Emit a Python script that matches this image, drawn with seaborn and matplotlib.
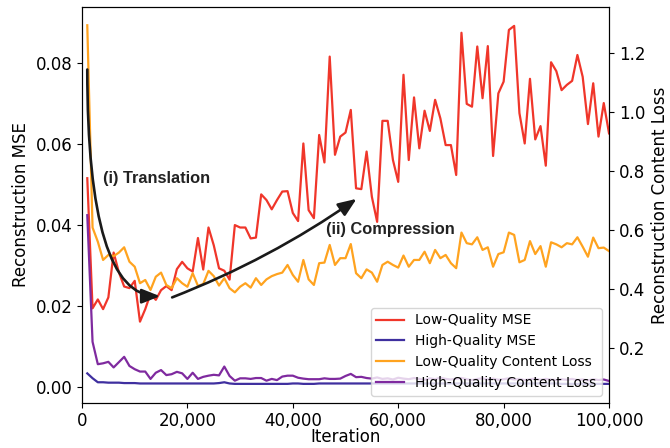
import matplotlib
matplotlib.use("Agg")
import matplotlib.pyplot as plt
import seaborn as sns
from matplotlib.ticker import StrMethodFormatter, MultipleLocator

# ---------------- data ----------------
iterations = list(range(1000, 100001, 1000))

low_quality_mse = [
    0.0516, 0.0194, 0.0216, 0.0192, 0.0221, 0.0332, 0.0283, 0.0248, 0.0244, 0.0262,
    0.0161, 0.0192, 0.0230, 0.0215, 0.0239, 0.0249, 0.0239, 0.0291, 0.0309, 0.0293,
    0.0285, 0.0368, 0.0290, 0.0394, 0.0350, 0.0293, 0.0287, 0.0265, 0.0400, 0.0394,
    0.0394, 0.0367, 0.0369, 0.0476, 0.0462, 0.0439, 0.0462, 0.0483, 0.0484, 0.0430,
    0.0410, 0.0602, 0.0437, 0.0417, 0.0623, 0.0555, 0.0817, 0.0574, 0.0619, 0.0629,
    0.0685, 0.0491, 0.0489, 0.0582, 0.0470, 0.0408, 0.0658, 0.0658, 0.0561, 0.0507,
    0.0772, 0.0561, 0.0716, 0.0590, 0.0683, 0.0633, 0.0710, 0.0664, 0.0598, 0.0598,
    0.0524, 0.0876, 0.0700, 0.0693, 0.0842, 0.0714, 0.0843, 0.0571, 0.0726, 0.0755,
    0.0883, 0.0893, 0.0677, 0.0602, 0.0762, 0.0612, 0.0645, 0.0547, 0.0803, 0.0781,
    0.0734, 0.0747, 0.0757, 0.0821, 0.0767, 0.0650, 0.0751, 0.0619, 0.0702, 0.0627,
]

high_quality_mse = [
    0.0033, 0.0021, 0.0011, 0.0011, 0.0010, 0.0010, 0.0010, 0.0009, 0.0009, 0.0009,
    0.0008, 0.0008, 0.0008, 0.0008, 0.0008, 0.0008, 0.0008, 0.0008, 0.0008, 0.0008,
    0.0008, 0.0008, 0.0008, 0.0008, 0.0008, 0.0009, 0.0011, 0.0008, 0.0007, 0.0007,
    0.0007, 0.0007, 0.0007, 0.0007, 0.0007, 0.0007, 0.0007, 0.0007, 0.0007, 0.0008,
    0.0008, 0.0007, 0.0007, 0.0007, 0.0008, 0.0008, 0.0008, 0.0008, 0.0008, 0.0008,
    0.0008, 0.0008, 0.0008, 0.0008, 0.0008, 0.0008, 0.0008, 0.0008, 0.0008, 0.0008,
    0.0008, 0.0008, 0.0008, 0.0008, 0.0008, 0.0008, 0.0008, 0.0008, 0.0008, 0.0008,
    0.0008, 0.0008, 0.0008, 0.0008, 0.0008, 0.0008, 0.0008, 0.0008, 0.0008, 0.0008,
    0.0008, 0.0008, 0.0008, 0.0008, 0.0008, 0.0008, 0.0008, 0.0008, 0.0008, 0.0008,
    0.0007, 0.0007, 0.0007, 0.0007, 0.0007, 0.0007, 0.0007, 0.0007, 0.0007, 0.0007,
]

low_quality_content = [
    1.295, 0.608, 0.560, 0.498, 0.515, 0.511, 0.523, 0.541, 0.492, 0.475,
    0.419, 0.430, 0.396, 0.441, 0.455, 0.413, 0.402, 0.436, 0.419, 0.407,
    0.453, 0.410, 0.416, 0.461, 0.443, 0.411, 0.436, 0.402, 0.388, 0.407,
    0.419, 0.404, 0.436, 0.413, 0.432, 0.443, 0.450, 0.455, 0.481, 0.447,
    0.424, 0.498, 0.432, 0.413, 0.487, 0.489, 0.549, 0.481, 0.504, 0.504,
    0.552, 0.453, 0.436, 0.466, 0.455, 0.424, 0.481, 0.492, 0.481, 0.472,
    0.513, 0.475, 0.498, 0.498, 0.526, 0.487, 0.532, 0.504, 0.515, 0.487,
    0.470, 0.591, 0.555, 0.551, 0.575, 0.532, 0.541, 0.475, 0.518, 0.524,
    0.591, 0.583, 0.490, 0.498, 0.562, 0.518, 0.545, 0.475, 0.558, 0.551,
    0.541, 0.555, 0.551, 0.575, 0.543, 0.509, 0.574, 0.538, 0.540, 0.528,
]

high_quality_content = [
    0.650, 0.220, 0.144, 0.147, 0.152, 0.133, 0.151, 0.169, 0.138, 0.127,
    0.119, 0.119, 0.094, 0.115, 0.124, 0.107, 0.110, 0.118, 0.113, 0.094,
    0.115, 0.094, 0.101, 0.105, 0.108, 0.106, 0.136, 0.104, 0.088, 0.096,
    0.096, 0.094, 0.097, 0.097, 0.088, 0.094, 0.090, 0.102, 0.105, 0.105,
    0.098, 0.095, 0.093, 0.093, 0.093, 0.096, 0.094, 0.094, 0.095, 0.104,
    0.111, 0.100, 0.101, 0.097, 0.095, 0.099, 0.094, 0.096, 0.092, 0.098,
    0.095, 0.093, 0.097, 0.094, 0.091, 0.096, 0.093, 0.098, 0.094, 0.092,
    0.095, 0.097, 0.093, 0.090, 0.094, 0.096, 0.092, 0.095, 0.091, 0.093,
    0.096, 0.092, 0.094, 0.090, 0.093, 0.095, 0.091, 0.094, 0.092, 0.090,
    0.093, 0.091, 0.094, 0.090, 0.092, 0.089, 0.093, 0.090, 0.092, 0.087,
]

series_labels = ["Low-Quality MSE", "High-Quality MSE",
                 "Low-Quality Content Loss", "High-Quality Content Loss"]
x_ticks = [0, 20000, 40000, 60000, 80000, 100000]

# ---------------- style ----------------
plt.rcParams['font.family'] = ['DejaVu Sans']
plt.rcParams['font.size'] = 12

c_red = '#f0362a'
c_blue = '#3f2f9f'
c_orange = '#ffa31f'
c_purple = '#7f2a9f'

fig = plt.figure(figsize=(6.7, 4.48), dpi=100)
ax = fig.add_axes([0.1224, 0.1011, 0.7866, 0.8826])
ax2 = ax.twinx()

sns.lineplot(x=iterations, y=low_quality_mse, ax=ax, color=c_red, linewidth=1.6, legend=False)
sns.lineplot(x=iterations, y=high_quality_mse, ax=ax, color=c_blue, linewidth=1.6, legend=False)
sns.lineplot(x=iterations, y=low_quality_content, ax=ax2, color=c_orange, linewidth=1.6, legend=False)
sns.lineplot(x=iterations, y=high_quality_content, ax=ax2, color=c_purple, linewidth=1.6, legend=False)

ax.set_xlim(0, 100000)
ax.set_ylim(-0.00396, 0.0939)
ax2.set_ylim(0.0132, 1.356)
ax.set_xticks(x_ticks)
ax.xaxis.set_major_formatter(StrMethodFormatter('{x:,.0f}'))
ax.yaxis.set_major_locator(MultipleLocator(0.02))
ax.yaxis.set_major_formatter(StrMethodFormatter('{x:.2f}'))
ax2.yaxis.set_major_locator(MultipleLocator(0.2))
ax2.yaxis.set_major_formatter(StrMethodFormatter('{x:.1f}'))

ax.set_xlabel("Iteration", fontsize=12, labelpad=-2)
ax.set_ylabel("Reconstruction MSE", fontsize=12)
ax2.set_ylabel("Reconstruction Content Loss", fontsize=12)
ax.tick_params(labelsize=12)
ax2.tick_params(labelsize=12)

# annotations
arrow_style = "-|>,head_length=0.55,head_width=0.22"
ax2.annotate("", xy=(14800, 0.0224), xycoords=ax.transData,
             xytext=(1000, 0.0785), textcoords=ax.transData,
             arrowprops=dict(arrowstyle=arrow_style,
                             connectionstyle="angle3,angleA=-90,angleB=0",
                             color='#1a1a1a', lw=1.9, shrinkA=0, shrinkB=0,
                             mutation_scale=20))
ax2.annotate("", xy=(52100, 0.0465), xycoords=ax.transData,
             xytext=(17100, 0.0221), textcoords=ax.transData,
             arrowprops=dict(arrowstyle=arrow_style,
                             connectionstyle="arc3,rad=0.06",
                             color='#1a1a1a', lw=1.9, shrinkA=0, shrinkB=0,
                             mutation_scale=20))
ax2.text(4000, 0.0516, "(i) Translation", transform=ax.transData,
         fontsize=11.8, fontweight='bold', family=['Liberation Sans', 'DejaVu Sans'],
         ha='left', va='center', color='#222222')
ax2.text(46250, 0.0388, "(ii) Compression", transform=ax.transData,
         fontsize=11.8, fontweight='bold', family=['Liberation Sans', 'DejaVu Sans'],
         ha='left', va='center', color='#222222')

handles = [ax.lines[0], ax.lines[1], ax2.lines[0], ax2.lines[1]]
ax2.legend(handles, series_labels, loc='lower right', fontsize=10)

fig.savefig("out.png", dpi=100)
